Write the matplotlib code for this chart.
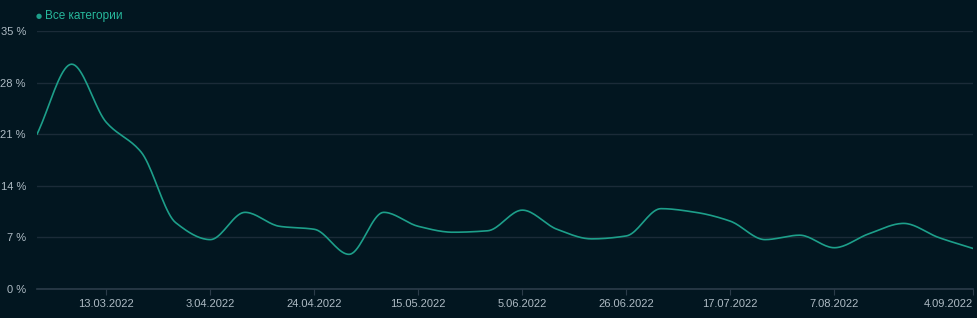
import numpy as np
import pandas as pd
import matplotlib
matplotlib.use("Agg")
import matplotlib.pyplot as plt
import matplotlib.dates as mdates

# weekly share, %
dates = pd.date_range("2022-02-27", "2022-09-04", freq="7D")
share = [21.0, 30.5, 22.6, 18.6, 9.0, 6.7, 10.4, 8.5, 8.1, 4.7,
         10.4, 8.5, 7.7, 7.9, 10.7, 8.1, 6.8, 7.2, 10.9, 10.4,
         9.2, 6.7, 7.3, 5.6, 7.5, 8.9, 7.0, 5.5]
series_name = "Все категории"
tick_dates = pd.date_range("2022-03-13", "2022-08-07", freq="21D").append(pd.DatetimeIndex(["2022-09-04"]))
y_ticks = [0, 7, 14, 21, 28, 35]

plt.rcParams["font.family"] = ["Liberation Sans", "DejaVu Sans"]

bg = "#021620"
grid_c = "#1b2b38"
line_c = "#1d9f8a"
text_c = "#aebbc4"


def monotone(x, y, n=20):
    # Fritsch-Carlson monotone cubic, only to draw the smooth curve
    x = np.asarray(x, float); y = np.asarray(y, float)
    h = np.diff(x); d = np.diff(y) / h
    m = np.zeros_like(y)
    m[0], m[-1] = d[0], d[-1]
    for k in range(1, len(y) - 1):
        if d[k - 1] * d[k] <= 0:
            m[k] = 0
        else:
            w1 = 2 * h[k] + h[k - 1]; w2 = h[k] + 2 * h[k - 1]
            m[k] = (w1 + w2) / (w1 / d[k - 1] + w2 / d[k])
    xs, ys = [], []
    for k in range(len(h)):
        t = np.linspace(0, 1, n, endpoint=False)
        h00 = 2*t**3 - 3*t**2 + 1; h10 = t**3 - 2*t**2 + t
        h01 = -2*t**3 + 3*t**2; h11 = t**3 - t**2
        xs.append(x[k] + t * h[k])
        ys.append(h00*y[k] + h10*h[k]*m[k] + h01*y[k+1] + h11*h[k]*m[k+1])
    xs.append([x[-1]]); ys.append([y[-1]])
    return np.concatenate(xs), np.concatenate(ys)


xn = mdates.date2num(dates)
sx, sy = monotone(xn, share)

fig = plt.figure(figsize=(9.77, 3.18), dpi=100, facecolor=bg)
ax = fig.add_axes([37/977, 1 - 289/318, 936/977, 258/318], facecolor=bg)

ax.plot(sx, sy, color=line_c, lw=1.2, solid_capstyle="round")

ax.set_xlim(xn[0], xn[-1])
ax.set_ylim(0, 35)
ax.set_yticks(y_ticks)
ax.set_yticklabels([f"{v} %" for v in y_ticks])
ax.set_xticks(mdates.date2num(tick_dates))
ax.set_xticklabels([f"{d.day}.{d.month:02d}.{d.year}" for d in tick_dates])
ax.get_xticklabels()[-1].set_horizontalalignment("right")

ax.grid(axis="y", color=grid_c, lw=1)
for s in ["top", "right", "left"]:
    ax.spines[s].set_visible(False)
ax.spines["bottom"].set_color("#2c3c4a")
ax.spines["bottom"].set_linewidth(1.2)
ax.tick_params(axis="y", length=0, pad=8, labelsize=8, labelcolor=text_c)
ax.tick_params(axis="x", length=4, color="#2c3c4a", pad=3, labelsize=8, labelcolor=text_c)

fig.text(36/977, 1 - 16/318, "●", color=line_c, fontsize=5, va="center", ha="left",
         family="DejaVu Sans")
fig.text(45/977, 1 - 16/318, series_name, color="#27b89c", fontsize=8.5, va="center", ha="left")

fig.savefig("out.png", dpi=100, facecolor=bg)
